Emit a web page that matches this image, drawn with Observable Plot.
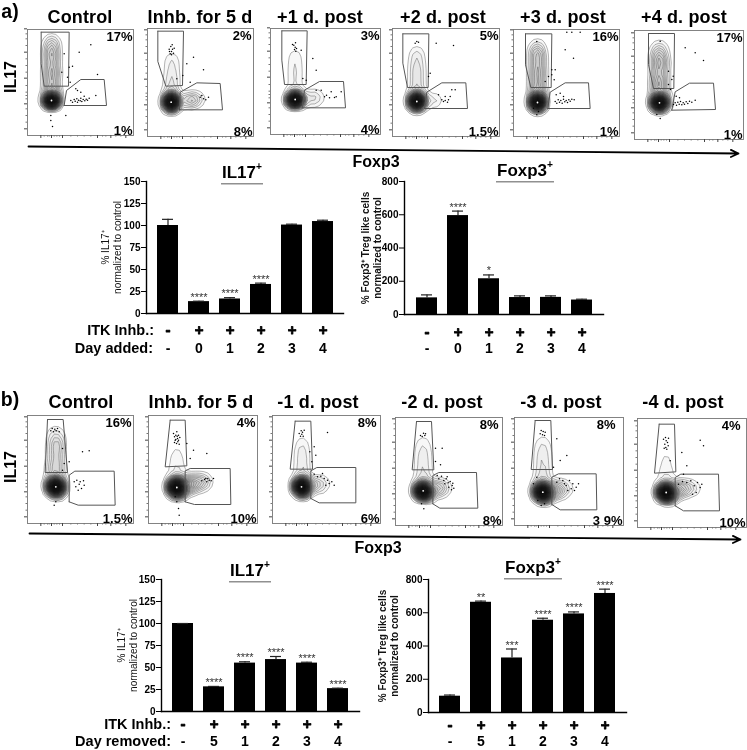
<!DOCTYPE html>
<html><head><meta charset="utf-8">
<script src="https://cdn.jsdelivr.net/npm/d3@7"></script>
<script src="https://cdn.jsdelivr.net/npm/@observablehq/plot@0.6"></script>
<style>
html,body{margin:0;padding:0;background:#fff;overflow:hidden}
#fig{position:relative;width:747px;height:750px;font-family:"Liberation Sans",Arial,sans-serif;color:#000}
.t{position:absolute;font-weight:bold;white-space:nowrap;line-height:1;transform:translate(-50%,-50%);will-change:transform}
.r{transform:translate(-100%,-50%)}
.v{transform:translate(-50%,-50%) rotate(-90deg)}
.s{letter-spacing:.15px}
.u{border-bottom:1.5px solid #222;padding:0 1px 2px}
sup{font-size:.6em;line-height:0;vertical-align:.7em}
svg{position:absolute;overflow:visible;background:transparent;will-change:transform}
</style></head><body><div id="fig"></div>
<script>
// ---------- flow cytometry panel text ----------
const panelTitlesA = ["Control","Inhb. for 5 d","+1 d. post","+2 d. post","+3 d. post","+4 d. post"];
const panelTitlesB = ["Control","Inhb. for 5 d","-1 d. post","-2 d. post","-3 d. post","-4 d. post"];
const il17Pct = ["17%","2%","3%","5%","16%","17%","16%","4%","8%","8%","8%","4%"];
const foxp3Pct = ["1%","8%","4%","1.5%","1%","1%","1.5%","10%","6%","8%","3 9%","10%"];

// ---------- flow gates, in channel units ----------
const il17Gates = [
 [[41,310],[125,310],[123,148],[50,148],[41,215]],
 [[31,316],[108,316],[105,153],[55,151],[31,225]],
 [[34,311],[110,311],[107,150],[42,150],[34,223]],
 [[31,308],[109,308],[107,147],[45,147],[31,220]],
 [[36,308],[115,308],[113,147],[52,147],[36,215]],
 [[42,318],[120,318],[118,153],[57,153],[42,225]],
 [[60,312],[107,312],[120,153],[53,153]],
 [[65,310],[110,310],[115,173],[50,170]],
 [[68,307],[115,307],[120,163],[53,163]],
 [[63,312],[108,312],[115,167],[50,167]],
 [[62,315],[109,315],[114,168],[50,168]],
 [[65,310],[111,310],[115,167],[51,163]]
];
const foxp3Gates = [
 [[110,90],[117,135],[160,168],[230,168],[237,90]],
 [[96,80],[98,133],[148,161],[218,159],[225,80]],
 [[95,80],[102,133],[147,159],[219,159],[225,80]],
 [[96,84],[103,133],[148,161],[220,161],[225,84]],
 [[103,84],[110,133],[155,161],[225,161],[230,84]],
 [[112,88],[122,143],[165,169],[237,169],[243,90]],
 [[125,65],[125,145],[142,157],[260,157],[263,55],[152,55]],
 [[110,65],[110,158],[125,165],[245,165],[247,57],[138,57]],
 [[115,75],[115,158],[133,168],[250,168],[250,62],[140,62]],
 [[112,65],[112,150],[130,159],[243,159],[247,52],[133,52]],
 [[112,63],[112,145],[132,155],[245,155],[247,47],[137,47]],
 [[113,65],[113,150],[130,160],[243,160],[246,50],[138,50]]
];

// ---------- population cells: x, y, weight; the first is the negative population ----------
const populations = [
 [[72,105,100],[72,130,24],[72,150,19],[70,170,18],[74,190,18],[70,210,18],[74,230,18],[70,250,17],[73,268,14],[72,285,9]],
 [[71,103,100],[71,130,10],[71,150,7],[73,170,6],[73,190,6],[73,210,5],[73,230,4],[73,245,2],[115,108,11],[130,110,11],[145,112,8],[160,113,3]],
 [[74,105,100],[74,130,8],[74,155,6],[74,180,6],[74,205,6],[74,230,5],[74,250,2],[120,108,9],[135,110,7],[150,110,3]],
 [[73,105,100],[73,130,12],[73,155,10],[73,180,10],[73,205,10],[73,230,8],[73,255,6],[115,108,7],[130,110,4]],
 [[72,102,100],[72,130,22],[72,150,18],[70,170,17],[74,190,17],[70,210,17],[74,230,17],[70,250,16],[72,270,10]],
 [[75,110,100],[75,135,22],[75,155,19],[73,175,18],[77,195,18],[73,215,18],[77,235,18],[73,255,17],[75,275,10]],
 [[85,110,100],[80,114,30],[90,98,22],[85,135,22],[85,155,18],[83,175,16],[87,195,16],[83,215,16],[87,235,16],[85,255,14],[85,275,8]],
 [[85,108,100],[78,112,30],[92,94,20],[85,135,12],[85,160,8],[85,185,6],[85,210,5],[85,235,2],[112,115,26],[128,118,24],[144,122,20],[160,124,14],[175,126,6]],
 [[87,110,100],[80,114,30],[94,96,20],[87,135,14],[87,160,11],[87,185,10],[87,210,10],[87,235,7],[87,258,3],[112,115,19],[127,117,17],[142,118,13],[157,120,6]],
 [[83,104,100],[76,108,30],[90,88,20],[83,130,16],[83,155,13],[83,180,11],[83,205,11],[83,230,9],[83,255,6],[108,110,19],[123,111,17],[138,112,13],[153,112,7]],
 [[85,100,100],[78,106,30],[92,84,20],[85,130,16],[85,155,13],[85,180,11],[85,205,11],[85,230,9],[85,255,6],[112,105,19],[127,107,18],[142,108,14],[157,110,7]],
 [[86,105,100],[79,110,30],[93,90,20],[86,135,10],[86,160,7],[86,185,5],[86,210,4],[86,232,2],[112,112,19],[127,115,18],[142,117,15],[157,118,10],[172,120,4]]
];

// ---------- individual events ----------
const events = [
 [[130,105],[135,100],[140,108],[143,103],[148,110],[150,100],[153,106],[158,104],[160,112],[163,102],[167,108],[172,104],[176,109],[180,106],[185,112],[150,135],[160,130],[170,118],[205,120],[190,272],[155,250],[110,245],[135,208],[103,190],[210,183],[145,140],[70,60],[75,27],[70,45],[115,60],[125,205],[120,175],[128,160]],
 [[65,262],[70,270],[72,255],[75,262],[78,250],[68,248],[74,275],[80,265],[66,255],[72,245],[118,218],[168,200],[138,238],[106,183],[88,173],[128,163],[158,118],[168,113],[183,118],[163,123],[175,110]],
 [[70,268],[74,262],[72,255],[76,250],[75,275],[66,270],[78,258],[92,253],[127,228],[137,193],[97,168],[107,163],[137,133],[162,113],[177,110],[197,113],[212,128],[192,111],[182,128],[152,133],[168,118]],
 [[78,283],[68,280],[73,285],[131,280],[183,273],[113,190],[108,180],[138,125],[158,120],[148,110],[158,108],[168,110],[173,120],[178,140],[188,140],[153,105],[165,103]],
 [[125,105],[130,100],[134,110],[138,103],[142,108],[146,100],[150,112],[154,104],[158,108],[162,102],[166,110],[170,106],[175,112],[182,110],[128,125],[140,130],[150,120],[70,285],[155,260],[180,235],[115,200],[125,200],[105,180],[95,165],[70,65],[75,75],[60,85],[115,185],[122,170],[160,313],[175,313],[200,313]],
 [[117,105],[122,110],[126,103],[130,112],[134,106],[138,114],[142,104],[146,110],[150,106],[155,113],[160,108],[165,115],[172,112],[182,118],[125,130],[135,125],[77,295],[152,275],[182,260],[207,237],[102,205],[112,180],[102,165],[67,75],[77,63],[116,190],[108,150]],
 [[70,278],[74,285],[78,275],[82,283],[86,278],[90,285],[95,275],[165,215],[185,218],[105,225],[125,185],[140,125],[145,110],[148,130],[152,100],[155,118],[158,125],[162,105],[168,128],[170,115],[80,55],[85,65],[110,180],[105,160]],
 [[75,270],[78,260],[80,250],[82,265],[84,240],[85,275],[87,255],[88,245],[90,265],[92,238],[94,258],[78,243],[86,262],[82,252],[90,250],[160,128],[168,132],[175,125],[182,130],[188,128],[195,135],[172,135],[178,135],[175,210],[135,220],[115,240],[90,45],[92,25],[85,65],[80,80],[125,195]],
 [[80,270],[84,262],[86,278],[88,268],[90,274],[92,262],[95,280],[165,273],[125,230],[130,205],[125,148],[135,140],[145,142],[155,135],[165,130],[170,120],[178,125],[185,115],[160,115],[150,150],[112,215],[118,185]],
 [[75,270],[80,267],[84,277],[88,270],[90,275],[120,232],[140,232],[120,192],[135,182],[125,150],[130,140],[138,148],[145,135],[152,140],[158,128],[164,132],[170,120],[175,112],[168,107],[160,115],[172,127],[155,146],[148,125],[85,50],[78,65]],
 [[77,275],[80,285],[84,272],[86,282],[90,270],[92,280],[127,260],[157,210],[137,195],[117,175],[67,145],[57,125],[127,130],[135,140],[145,135],[155,120],[165,135],[175,125],[185,115],[192,125],[180,105],[170,110],[160,105],[150,125],[80,60],[90,65],[70,75]],
 [[78,265],[82,250],[84,270],[85,240],[86,260],[88,235],[90,255],[92,245],[80,238],[93,268],[188,262],[198,245],[133,225],[148,185],[98,200],[138,160],[123,130],[135,138],[148,135],[160,140],[170,125],[180,135],[188,120],[193,130],[176,105],[165,100]]
];

// ---------- flow axis ticks ----------
const flowMajorTicks = [20,95,172,250,320];
const flowMinorTicks = [40,60,80,110,120,130,150,190,210,230,270,290,305];
const flowXMajorTicks = [40,72,105,210,250,295];
const flowXMinorTicks = [50,60,65,80,88,96,130,150,170,190,225,235,265,280];

// ---------- bar chart values ----------
const dayAdded = ["-","0","1","2","3","4"];
const dayRemoved = ["-","5","1","2","3","4"];
const inhibitor = ["-","+","+","+","+","+"];
const il17AddMean = [100,13.5,16.5,33,100.5,104.5];
const il17AddTop  = [107,14,18,34.5,101.5,106];
const il17AddSig  = ["","****","****","****","",""];
const foxAddMean = [100,595,215,102,103,87];
const foxAddTop  = [118,622,238,112,112,92];
const foxAddSig  = ["","****","*","","",""];
const il17RemMean = [100,28,55,59,55,26];
const il17RemTop  = [100,28.5,56.5,62.5,56,26.5];
const il17RemSig  = ["","****","****","****","****","****"];
const foxRemMean = [98,663,328,555,593,716];
const foxRemTop  = [105,670,382,567,605,742];
const foxRemSig  = ["","**","***","****","****","****"];
const il17Ticks = [0,25,50,75,100,125,150];
const foxTicks = [0,200,400,600,800];
const il17Label = "% IL17⁺\nnormalized to control";
const foxLabel = "% Foxp3⁺ Treg like cells\nnormalized to control";

// ---------- layout ----------
const panelBoxes = [
 [27,29,106,106],[147,28,106,108],[270,28,110,106],[392,28,107,108],[513,29,106,107],[634,30,109,109],
 [27,415,106,108],[148,415,109,108],[272,415,108,108],[395,417,107,108],[514,417,109,108],[637,418,109,109]
];
const pctShift = [0,-1,0,0,0,0,-1,-1,-3,-3,-7,-5];

const fig = document.getElementById("fig");
const add = (html, x, y, size, cls = "") => {
  const e = document.createElement("div");
  e.className = "t " + cls;
  e.innerHTML = html;
  e.style.left = x + "px"; e.style.top = y + "px"; e.style.fontSize = size + "px";
  fig.append(e);
};
const place = (svg, left, top) => { svg.style.left = left + "px"; svg.style.top = top + "px"; fig.append(svg); };

// flow panels
const m = 6;
panelBoxes.forEach(([left, top, w, h], i) => {
  const pts = populations[i];
  const blur = i < 6 ? 3 : 3.5;
  const svg = Plot.plot({
    width: w + 2 * m, height: h + 2 * m, margin: m,
    x: {domain: [0, w * 3]}, y: {domain: [0, h * 3]},
    marks: [
      Plot.frame({stroke: "#777", strokeWidth: 0.9}),
      Plot.density(pts, {x: d => d[0], y: d => d[1], weight: d => d[2], bandwidth: blur, thresholds: 24,
        stroke: "#444", strokeWidth: 0.4, fill: "#222", fillOpacity: 0.035}),
      Plot.density(pts.slice(0, i < 6 ? 1 : 3), {x: d => d[0], y: d => d[1], weight: d => d[2], bandwidth: blur, thresholds: 12,
        stroke: "none", fill: "#000", fillOpacity: 0.17}),
      Plot.line([...il17Gates[i], il17Gates[i][0]], {x: d => d[0], y: d => d[1], stroke: "#555", strokeWidth: 1}),
      Plot.line([...foxp3Gates[i], foxp3Gates[i][0]], {x: d => d[0], y: d => d[1], stroke: "#555", strokeWidth: 1}),
      Plot.dot(events[i], {x: d => d[0], y: d => d[1], r: 0.75, fill: "#000", stroke: "none"}),
      Plot.dot(pts.slice(0, 1), {x: d => d[0], y: d => d[1], r: 0.9, fill: "#fff", stroke: "none"}),
      Plot.axisY({ticks: flowMajorTicks, tickSize: 3, tickFormat: () => "", stroke: "#444"}),
      Plot.axisY({ticks: flowMinorTicks, tickSize: 1.5, tickFormat: () => "", stroke: "#777"}),
      Plot.axisX({ticks: flowXMajorTicks, tickSize: 3, tickFormat: () => "", stroke: "#444"}),
      Plot.axisX({ticks: flowXMinorTicks, tickSize: 1.5, tickFormat: () => "", stroke: "#777"}),
      Plot.text([il17Pct[i]], {frameAnchor: "top-right", dx: -1 + pctShift[i], dy: 2, fontSize: 13, fontWeight: "bold", fill: "#000", fontFamily: "Liberation Sans"}),
      Plot.text([foxp3Pct[i]], {frameAnchor: "bottom-right", dx: -1, dy: -1, fontSize: 13, fontWeight: "bold", fill: "#000", fontFamily: "Liberation Sans"})
    ]
  });
  place(svg, left - m, top - m);
});

// bar charts
function bars({axisX, axisTop, axisBottom, axisEnd, ymax, ticks, days, mean, top, sig, label, labelDx, labelWeight, row1, row2}) {
  const mt = 8, mb = 38, ml = 52, mr = 6;
  const rows = days.map((d, i) => ({day: d, inh: inhibitor[i], mean: mean[i], top: top[i], sig: sig[i]}));
  const svg = Plot.plot({
    width: axisEnd - axisX + ml + mr, height: axisBottom - axisTop + mt + mb,
    marginTop: mt, marginBottom: mb, marginLeft: ml, marginRight: mr,
    style: {fontFamily: "Liberation Sans"},
    x: {type: "band", domain: days, paddingInner: 0.33, paddingOuter: 0.31, axis: null},
    y: {domain: [0, ymax]},
    marks: [
      Plot.barY(rows, {x: "day", y: "mean", fill: "#000"}),
      Plot.ruleX(rows, {x: "day", y1: "mean", y2: "top", stroke: "#222", strokeWidth: 1.2}),
      Plot.tickY(rows, {x: "day", y: "top", stroke: "#222", strokeWidth: 1.2, insetLeft: 5, insetRight: 5}),
      Plot.frame({anchor: "left", stroke: "#000", strokeWidth: 1.4}),
      Plot.frame({anchor: "bottom", stroke: "#000", strokeWidth: 1.4}),
      Plot.axisY({ticks, tickSize: 5, tickPadding: 1, fontSize: 10, fontWeight: "bold", label: null, tickFormat: d => d, stroke: "#000", fill: "#000"}),
      Plot.text(rows, {x: "day", y: "top", text: "sig", dy: -4, fontSize: 11, fill: "#333"}),
      Plot.text(rows, {x: "day", y: () => 0, text: "inh", dy: row1, fontSize: 15, fontWeight: "bold", fill: "#000", stroke: "#000", strokeWidth: 0.8}),
      Plot.text(rows, {x: "day", y: () => 0, text: "day", dy: row2, fontSize: 14, fontWeight: "bold", fill: "#000"}),
      Plot.text([label], {frameAnchor: "left", textAnchor: "middle", dx: labelDx, rotate: -90, fontSize: 10, lineHeight: 1.15, fontWeight: labelWeight, fill: "#111"})
    ]
  });
  place(svg, axisX - ml, axisTop - mt);
}
bars({axisX:146,axisTop:181,axisBottom:313,axisEnd:343,ymax:150,ticks:il17Ticks,days:dayAdded,mean:il17AddMean,top:il17AddTop,sig:il17AddSig,label:il17Label,labelDx:-35,labelWeight:"normal",row1:17,row2:35});
bars({axisX:404,axisTop:181,axisBottom:314,axisEnd:603,ymax:800,ticks:foxTicks,days:dayAdded,mean:foxAddMean,top:foxAddTop,sig:foxAddSig,label:foxLabel,labelDx:-33,labelWeight:"bold",row1:18,row2:34});
bars({axisX:161,axisTop:579,axisBottom:711,axisEnd:359,ymax:150,ticks:il17Ticks,days:dayRemoved,mean:il17RemMean,top:il17RemTop,sig:il17RemSig,label:il17Label,labelDx:-34,labelWeight:"normal",row1:13,row2:30});
bars({axisX:428,axisTop:579,axisBottom:712,axisEnd:626,ymax:800,ticks:foxTicks,days:dayRemoved,mean:foxRemMean,top:foxRemTop,sig:foxRemSig,label:foxLabel,labelDx:-40,labelWeight:"bold",row1:13,row2:29});

// slanted arrows
[[28,146,710,7],[29,533,711,6]].forEach(([l, t, w, h]) => {
  const pad = 10;
  const svg = Plot.plot({
    width: w + 2 * pad, height: h + 2 * pad, margin: pad,
    x: {domain: [0, 1], axis: null}, y: {domain: [1, 0], axis: null},
    marks: [Plot.arrow([{a: 0, b: 0, c: 1, d: 1}], {x1: "a", y1: "b", x2: "c", y2: "d", stroke: "#000", strokeWidth: 1.8, headLength: 7, headAngle: 50})]
  });
  place(svg, l - pad, t - pad);
});

// text
const centersA = [80,200,320,443,563,684], centersB = [81,201,318,442,561,683];
panelTitlesA.forEach((s, i) => add(s, centersA[i], 17, 18, "s"));
panelTitlesB.forEach((s, i) => add(s, centersB[i], 402, 18, "s"));
add("a)", 10, 12, 19.5); add("b)", 10, 400, 19.5);
add("IL17", 11, 77, 16, "v"); add("IL17", 11, 467, 16, "v");
add("Foxp3", 376, 162, 16); add("Foxp3", 378, 548, 16);
add('<span class="u">IL17<sup>+</sup></span>', 242, 172, 17);
add('<span class="u">Foxp3<sup>+</sup></span>', 525, 170, 17);
add('<span class="u">IL17<sup>+</sup></span>', 250, 570, 17);
add('<span class="u">Foxp3<sup>+</sup></span>', 533, 567, 17);
add("ITK Inhb.:", 154, 330, 14.5, "r"); add("Day added:", 153, 348, 14.5, "r");
add("ITK Inhb.:", 171, 724, 14.5, "r"); add("Day removed:", 171, 741, 14.5, "r");
</script></body></html>
